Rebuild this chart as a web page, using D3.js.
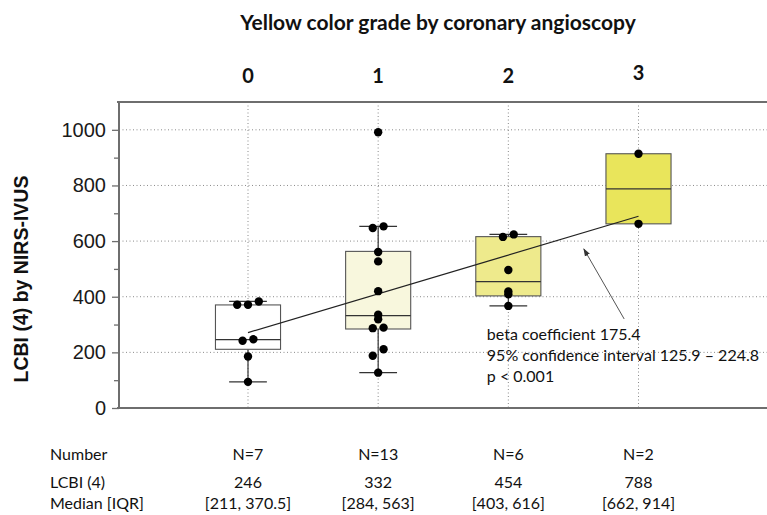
<!DOCTYPE html>
<html>
<head>
<meta charset="utf-8">
<script src="https://cdn.jsdelivr.net/npm/d3@7"></script>
<style>
  html, body { margin: 0; padding: 0; background: #fff; }
  svg { display: block; }
</style>
</head>
<body>
<svg id="chart" width="767" height="515"></svg>
<script>
// ---------- data ----------
const categories = ["0", "1", "2", "3"];
const counts = [7, 13, 6, 2];
const q1 = [211, 284, 403, 662];
const medians = [246, 332, 454, 788];
const q3 = [370.5, 563, 616, 914];
const whiskerLow = [94, 127, 367, 662];
const whiskerHigh = [383, 653, 624, 914];
const medianLabels = ["246", "332", "454", "788"];
const iqrLabels = ["[211, 370.5]", "[284, 563]", "[403, 616]", "[662, 914]"];
// individual values, grouped into clusters of near-equal values (spread side by side)
const grade0Values = [[94], [185], [242, 247], [371, 371, 383]];
const grade1Values = [[127], [188, 211], [287, 289], [319], [335], [420], [527], [561], [647, 653], [991]];
const grade2Values = [[367], [409], [419], [496], [615, 624]];
const grade3Values = [[662], [914]];
const pointValues = [grade0Values, grade1Values, grade2Values, grade3Values];
const boxFills = ["#ffffff", "#f8f7dd", "#eeea8c", "#e9e55b"];
const yTicks = [0, 200, 400, 600, 800, 1000];
const yMinorTicks = [100, 300, 500, 700, 900];
const regressionStart = 271;   // fitted LCBI at grade 0
const regressionSlope = 139.4; // fitted change per grade as drawn
const annotationLines = ["beta coefficient 175.4", "95% confidence interval 125.9 \u2013 224.8", "p < 0.001"];
const titleText = "Yellow color grade by coronary angioscopy";
const yLabel = "LCBI (4) by NIRS-IVUS";
const rowLabels = ["Number", "LCBI (4)", "Median [IQR]"];

// ---------- layout ----------
const svg = d3.select("#chart");
const plotLeft = 119, plotTop = 102, plotBottom = 408, plotRight = 767;
const x = d3.scalePoint().domain(categories).range([248, 638.5]);
const step = x.step();
const xc = v => x(categories[0]) + v * step; // continuous grade position
const y = d3.scaleLinear().domain([0, 1100]).range([plotBottom, plotTop]);

const calibri = "Lato, 'Open Sans', sans-serif";
const arial = "'Liberation Sans', Arial, sans-serif";

// grid
const grid = svg.append("g");
grid.selectAll(".hg").data(yTicks.filter(d => d > 0)).join("line")
  .attr("x1", plotLeft).attr("x2", plotRight)
  .attr("y1", d => y(d)).attr("y2", d => y(d))
  .attr("stroke", "#8a8a8a").attr("stroke-width", 1).attr("stroke-dasharray", "1,2.5");
grid.selectAll(".vg").data(categories).join("line")
  .attr("x1", d => x(d)).attr("x2", d => x(d))
  .attr("y1", plotTop).attr("y2", plotBottom)
  .attr("stroke", "#8a8a8a").attr("stroke-width", 1).attr("stroke-dasharray", "1,2.5");

// frame
svg.append("line").attr("x1", plotLeft - 2).attr("x2", plotRight).attr("y1", plotTop).attr("y2", plotTop)
  .attr("stroke", "#6e6e6e").attr("stroke-width", 2);
svg.append("line").attr("x1", plotLeft - 2).attr("x2", plotRight).attr("y1", plotBottom).attr("y2", plotBottom)
  .attr("stroke", "#6e6e6e").attr("stroke-width", 2);

// y axis
const yAxis = d3.axisLeft(y).tickValues(yTicks).tickFormat(d3.format("d"))
  .tickSize(7).tickPadding(6).tickSizeOuter(0);
const ga = svg.append("g").attr("transform", `translate(${plotLeft},0)`).call(yAxis);
ga.select(".domain").attr("stroke", "#6e6e6e").attr("stroke-width", 2)
  .attr("d", `M0,${plotTop}V${plotBottom}`);
ga.selectAll(".tick line").attr("stroke", "#6e6e6e").attr("stroke-width", 1.3);
ga.selectAll(".tick text").attr("font-family", arial).attr("font-size", 20).attr("fill", "#1a1a1a");
const minor = d3.axisLeft(y).tickValues(yMinorTicks).tickSize(5).tickFormat("");
const gm = svg.append("g").attr("transform", `translate(${plotLeft},0)`).call(minor);
gm.select(".domain").remove();
gm.selectAll(".tick line").attr("stroke", "#6e6e6e").attr("stroke-width", 1.3);

// y label
svg.append("text")
  .attr("transform", `translate(28,279) rotate(-90)`)
  .attr("text-anchor", "middle").attr("font-family", arial).attr("font-weight", "bold")
  .attr("font-size", 19.5).attr("fill", "#111").text(yLabel);

// title and category labels
svg.append("text").attr("x", 438).attr("y", 30).attr("text-anchor", "middle")
  .attr("font-family", calibri).attr("font-weight", "bold").attr("font-size", 21).attr("fill", "#111")
  .text(titleText);
svg.selectAll(".cat").data(categories).join("text")
  .attr("x", d => x(d)).attr("y", (d, i) => i === 3 ? 80 : 83).attr("text-anchor", "middle")
  .attr("font-family", calibri).attr("font-weight", "bold").attr("font-size", 20).attr("fill", "#111")
  .text(d => d);

// boxes
const boxW = step * 0.5, capW = step * 0.29;
const boxes = svg.append("g");
categories.forEach((c, i) => {
  const cx = x(c);
  const g = boxes.append("g");
  if (whiskerHigh[i] > q3[i]) {
    g.append("line").attr("x1", cx).attr("x2", cx).attr("y1", y(q3[i])).attr("y2", y(whiskerHigh[i]))
      .attr("stroke", "#333").attr("stroke-width", 1.2);
    g.append("line").attr("x1", cx - capW / 2).attr("x2", cx + capW / 2).attr("y1", y(whiskerHigh[i])).attr("y2", y(whiskerHigh[i]))
      .attr("stroke", "#333").attr("stroke-width", 1.2);
  }
  if (whiskerLow[i] < q1[i]) {
    g.append("line").attr("x1", cx).attr("x2", cx).attr("y1", y(q1[i])).attr("y2", y(whiskerLow[i]))
      .attr("stroke", "#333").attr("stroke-width", 1.2);
    g.append("line").attr("x1", cx - capW / 2).attr("x2", cx + capW / 2).attr("y1", y(whiskerLow[i])).attr("y2", y(whiskerLow[i]))
      .attr("stroke", "#333").attr("stroke-width", 1.2);
  }
  g.append("rect").attr("x", cx - boxW / 2).attr("width", boxW)
    .attr("y", y(q3[i])).attr("height", y(q1[i]) - y(q3[i]))
    .attr("fill", boxFills[i]).attr("stroke", "#555").attr("stroke-width", 1.1);
  g.append("line").attr("x1", cx - boxW / 2).attr("x2", cx + boxW / 2).attr("y1", y(medians[i])).attr("y2", y(medians[i]))
    .attr("stroke", "#333").attr("stroke-width", 1.2);
});

// regression line
svg.append("line")
  .attr("x1", xc(0)).attr("y1", y(regressionStart))
  .attr("x2", xc(3)).attr("y2", y(regressionStart + 3 * regressionSlope))
  .attr("stroke", "#222").attr("stroke-width", 1.2);

// points
const spread = step * 0.083;
const pts = [];
pointValues.forEach((clusters, i) => {
  clusters.forEach(cl => {
    cl.forEach((v, j) => pts.push({ cx: x(categories[i]) + (j - (cl.length - 1) / 2) * spread, v }));
  });
});
svg.append("g").selectAll("circle").data(pts).join("circle")
  .attr("cx", d => d.cx).attr("cy", d => y(d.v)).attr("r", 4.2).attr("fill", "#000");

// annotation arrow and text
const defs = svg.append("defs");
defs.append("marker").attr("id", "ah").attr("viewBox", "0 0 10 10").attr("refX", 9).attr("refY", 5)
  .attr("markerWidth", 8).attr("markerHeight", 8).attr("orient", "auto")
  .append("path").attr("d", "M0,1.5L10,5L0,8.5Z").attr("fill", "#333");
svg.append("line")
  .attr("x1", xc(2.89)).attr("y1", y(320))
  .attr("x2", xc(2.58)).attr("y2", y(572))
  .attr("stroke", "#555").attr("stroke-width", 1).attr("marker-end", "url(#ah)");
svg.append("g").selectAll("text").data(annotationLines).join("text")
  .attr("x", xc(1.835)).attr("y", (d, i) => y(245) + i * 21)
  .attr("font-family", calibri).attr("font-size", 16).attr("fill", "#111")
  .text(d => d);

// table below
const rowY = [460, 488, 509];
svg.append("g").selectAll("text").data(rowLabels).join("text")
  .attr("x", 50).attr("y", (d, i) => rowY[i])
  .attr("font-family", calibri).attr("font-size", 16).attr("fill", "#111").text(d => d);
const tbl = svg.append("g");
categories.forEach((c, i) => {
  const rows = ["N=" + counts[i], medianLabels[i], iqrLabels[i]];
  rows.forEach((t, r) => {
    tbl.append("text").attr("x", x(c)).attr("y", rowY[r]).attr("text-anchor", "middle")
      .attr("font-family", calibri).attr("font-size", 16).attr("fill", "#111").text(t);
  });
});
</script>
</body>
</html>
